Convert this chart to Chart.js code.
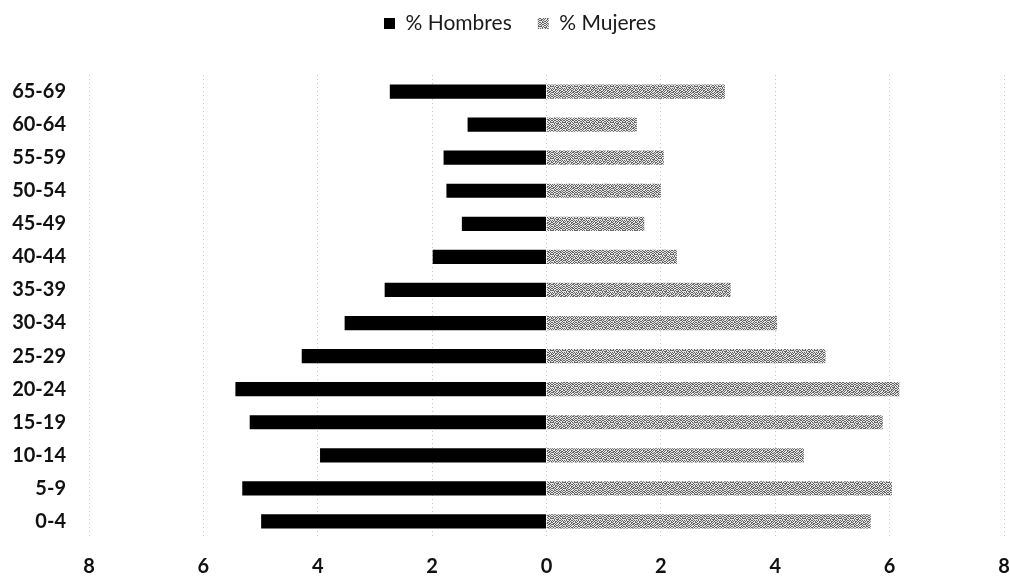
<!DOCTYPE html>
<html>
<head>
<meta charset="utf-8">
<title>Pirámide de población</title>
<script src="https://cdn.jsdelivr.net/npm/chart.js@4.4.1/dist/chart.umd.min.js"></script>
<style>
  html, body { margin: 0; padding: 0; background: #fff; }
  #wrap { width: 1010px; height: 578px; }
</style>
</head>
<body>
<div id="wrap"><canvas id="pyramid" width="1010" height="578"></canvas></div>
<script>
// Age groups, bottom to top
const ageGroups = ['0-4', '5-9', '10-14', '15-19', '20-24', '25-29', '30-34',
                   '35-39', '40-44', '45-49', '50-54', '55-59', '60-64', '65-69'];

// % of population
const menPct   = [4.99, 5.32, 3.96, 5.19, 5.44, 4.28, 3.53, 2.83, 1.99, 1.48, 1.75, 1.80, 1.38, 2.74];
const womenPct = [5.67, 6.04, 4.50, 5.88, 6.17, 4.88, 4.03, 3.22, 2.28, 1.71, 2.00, 2.05, 1.58, 3.12];

const seriesLabels = ['% Hombres', '% Mujeres'];
const xTicks = [-8, -6, -4, -2, 0, 2, 4, 6, 8];

// speckled grey fill for the women's bars
function makeSpeckle() {
    const rows = [
        '101100101101',
        '010011010010',
        '110100101011',
        '001011100100',
        '101001011010',
        '010110100101',
        '100101011001',
        '011010010110',
        '110100101101',
        '001011010010',
        '101100100101',
        '010011011010'
    ];
    const c = document.createElement('canvas');
    c.width = 12;
    c.height = 12;
    const g = c.getContext('2d');
    rows.forEach((row, y) => {
        for (let x = 0; x < row.length; x++) {
            g.fillStyle = row[x] === '1' ? '#666666' : '#e4e4e4';
            g.fillRect(x, y, 1, 1);
        }
    });
    return g.createPattern(c, 'repeat');
}

// extra room under the legend, and nudge it over the plot centre
const legendGap = {
    id: 'legendGap',
    beforeInit(chart) {
        const legend = chart.legend;
        const fit = legend.fit;
        legend.fit = function () {
            fit.call(this);
            this.height += 31;
        };
        const draw = legend.draw;
        legend.draw = function () {
            const c = this.ctx;
            c.save();
            c.translate(12, 0);
            draw.call(this);
            c.restore();
        };
    }
};

const ctx = document.getElementById('pyramid').getContext('2d');

const pyramid = new Chart(ctx, {
    type: 'bar',
    data: {
        labels: ageGroups,
        datasets: [{
            label: seriesLabels[0],
            data: menPct.map(v => -v),
            backgroundColor: '#000000',
            barPercentage: 0.43,
            categoryPercentage: 1
        }, {
            label: seriesLabels[1],
            data: womenPct,
            backgroundColor: makeSpeckle(),
            barPercentage: 0.43,
            categoryPercentage: 1
        }]
    },
    options: {
        indexAxis: 'y',
        responsive: false,
        animation: false,
        devicePixelRatio: 1,
        layout: {
            padding: { top: -13, left: 12, right: 6, bottom: 0 }
        },
        plugins: {
            tooltip: { enabled: false },
            legend: {
                position: 'top',
                labels: {
                    boxWidth: 11,
                    boxHeight: 11,
                    padding: 26,
                    color: '#1a1a1a',
                    font: { family: 'Lato', size: 21 }
                }
            }
        },
        scales: {
            x: {
                stacked: true,
                min: -8,
                max: 8,
                afterBuildTicks: axis => {
                    axis.ticks = xTicks.map(v => ({ value: v }));
                },
                afterFit: axis => {
                    axis.height = 40;
                    axis.paddingLeft = 0;
                    axis.paddingRight = 0;
                },
                grid: {
                    color: '#c4c4c4',
                    lineWidth: 1,
                    drawTicks: false
                },
                border: { display: false, dash: [1, 3] },
                ticks: {
                    padding: 17,
                    color: '#111',
                    font: { family: 'Lato', size: 20, weight: 'bold' },
                    callback: value => Math.abs(value)
                }
            },
            y: {
                stacked: true,
                reverse: true,
                afterFit: axis => { axis.width = 77; },
                grid: { display: false, drawTicks: false },
                border: { display: false },
                ticks: {
                    padding: 23,
                    color: '#111',
                    font: { family: 'Lato', size: 20, weight: 'bold' }
                }
            }
        }
    },
    plugins: [legendGap]
});
</script>
</body>
</html>
